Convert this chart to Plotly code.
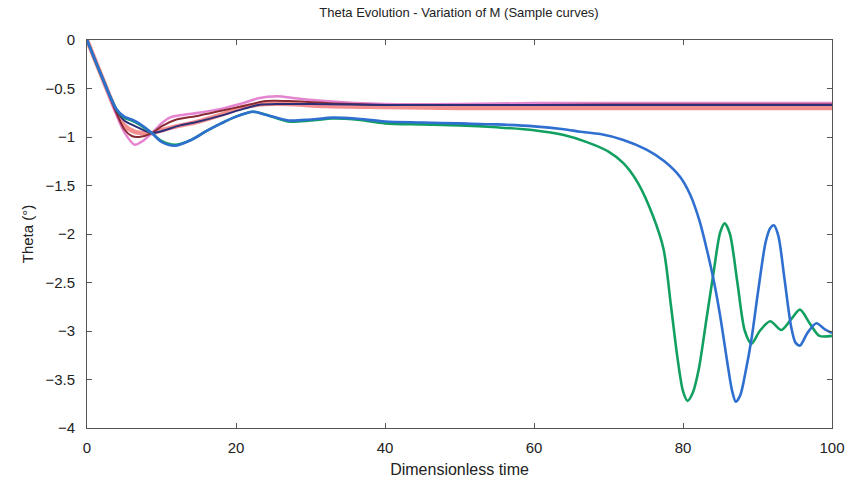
import plotly.graph_objects as go

# ---- data ----
t_green = [0, 2, 4, 5, 6, 7, 8.7, 10, 11.8, 14, 16, 18, 20, 22.3, 24, 27, 30, 33, 36, 40, 45, 50, 55, 60,
           64, 67, 70, 72, 74, 76, 77.4, 78.4, 79.3, 80.0, 80.6, 81.3, 82.1, 83.2, 84.1, 85.0, 85.6, 86.3,
           87.3, 88.3, 89.2, 90.3, 91.7, 93.2, 94.5, 95.7, 97, 98.3, 100]
th_green = [0, -0.38, -0.72, -0.80, -0.83, -0.87, -0.96, -1.04, -1.08, -1.03, -0.94, -0.86, -0.79, -0.74,
            -0.77, -0.84, -0.83, -0.81, -0.82, -0.86, -0.87, -0.88, -0.90, -0.93,
            -0.98, -1.05, -1.15, -1.27, -1.48, -1.82, -2.16, -2.75, -3.30, -3.62, -3.72, -3.64, -3.40,
            -2.85, -2.40, -1.98, -1.89, -2.00, -2.50, -3.00, -3.13, -3.00, -2.90, -2.99, -2.88, -2.78,
            -2.92, -3.05, -3.05]

t_blue = [0, 2, 4, 5, 6, 7, 8.7, 10, 11.8, 14, 16, 18, 20, 22.3, 24, 27, 30, 33, 36, 40, 45, 50, 55, 60,
          64, 66.2, 68.9, 72, 75.1, 77.5, 79.6, 81, 82.2, 83.2, 84.1, 85, 86, 86.6, 87.1, 87.7, 88.4, 89.2,
          90.1, 91.1, 91.7, 92.2, 92.8, 93.6, 94.5, 95.1, 95.7, 96.7, 97.9, 99, 100]
th_blue = [0, -0.38, -0.72, -0.79, -0.82, -0.86, -0.96, -1.05, -1.09, -1.03, -0.94, -0.86, -0.79, -0.74,
           -0.77, -0.83, -0.82, -0.80, -0.81, -0.84, -0.85, -0.86, -0.87, -0.89,
           -0.92, -0.945, -0.97, -1.03, -1.13, -1.25, -1.41, -1.60, -1.86, -2.16, -2.47, -2.85, -3.35,
           -3.62, -3.73, -3.66, -3.42, -3.08, -2.58, -2.08, -1.94, -1.91, -2.02, -2.45, -2.95, -3.12,
           -3.15, -3.02, -2.92, -2.98, -3.02]

t_mag = [0, 2, 4, 5, 6.4, 7.5, 8.7, 10, 11.1, 13, 15, 18, 21, 23, 25.5, 28, 32, 36, 40, 50, 60, 70, 80, 90, 100]
th_mag = [0, -0.38, -0.78, -0.95, -1.08, -1.04, -0.96, -0.86, -0.80, -0.77, -0.75, -0.71, -0.65, -0.60,
          -0.58, -0.60, -0.63, -0.65, -0.66, -0.66, -0.65, -0.65, -0.65, -0.65, -0.65]

t_red = [0, 2, 4, 5, 6.5, 8.7, 10, 12, 15, 18, 21, 24, 27, 32, 40, 50, 60, 70, 80, 90, 100]
th_red = [0, -0.38, -0.75, -0.88, -0.95, -0.96, -0.93, -0.89, -0.84, -0.77, -0.69, -0.66, -0.66, -0.68,
          -0.69, -0.70, -0.70, -0.70, -0.70, -0.70, -0.70]

t_brown = [0, 2, 4, 5, 6, 7, 8.7, 10, 12, 15, 18, 21, 24, 27, 32, 40, 50, 60, 70, 80, 90, 100]
th_brown = [0, -0.38, -0.76, -0.92, -0.99, -1.00, -0.96, -0.89, -0.82, -0.78, -0.73, -0.68, -0.63, -0.63,
            -0.65, -0.67, -0.67, -0.67, -0.665, -0.665, -0.665, -0.665]

t_navy = [0, 2, 4, 5, 6.5, 8.7, 10, 12.5, 15, 18, 21, 23, 26, 30, 40, 50, 60, 70, 80, 90, 100]
th_navy = [0, -0.38, -0.73, -0.83, -0.89, -0.96, -0.94, -0.88, -0.84, -0.78, -0.71, -0.67, -0.66, -0.66,
           -0.67, -0.67, -0.67, -0.67, -0.67, -0.67, -0.67]

x_ticks = [0, 20, 40, 60, 80, 100]
y_ticks = [0, -0.5, -1, -1.5, -2, -2.5, -3, -3.5, -4]
y_tick_text = ["0", "\u22120.5", "\u22121", "\u22121.5", "\u22122", "\u22122.5", "\u22123", "\u22123.5", "\u22124"]

series = [
    (t_red, th_red, "rgba(240,95,95,0.7)", 4.5),
    (t_mag, th_mag, "rgba(225,110,200,0.85)", 2.5),
    (t_brown, th_brown, "#8a2a35", 2.0),
    (t_navy, th_navy, "#2b2f78", 2.0),
    (t_green, th_green, "#12a060", 2.6),
    (t_blue, th_blue, "#2f6fd0", 2.6),
]

fig = go.Figure()
for tx, ty, col, w in series:
    fig.add_trace(go.Scatter(x=tx, y=ty, mode="lines",
                             line=dict(color=col, width=w, shape="spline", smoothing=0.8),
                             showlegend=False, hoverinfo="skip"))

FONT = "Liberation Sans, Arial"
axis_common = dict(showgrid=False, zeroline=False, showline=True, linecolor="#555555", linewidth=1,
                   mirror="ticks", ticks="inside", ticklen=5, tickcolor="#555555", automargin=False,
                   tickfont=dict(family=FONT, size=15, color="#222222"))

fig.update_layout(
    width=850, height=488,
    margin=dict(l=87, r=18, t=40, b=60),
    paper_bgcolor="white", plot_bgcolor="white",
    title=dict(text="Theta Evolution - Variation of M (Sample curves)", x=0.54, xanchor="center",
               y=0.975, yanchor="middle",
               font=dict(family=FONT, size=13, color="#222222")),
    xaxis=dict(range=[0, 100], tickvals=x_ticks, ticklabelstandoff=6, ticklabeloverflow="allow",
               title=dict(text="Dimensionless time", standoff=8,
                          font=dict(family=FONT, size=16, color="#222222")),
               **axis_common),
    yaxis=dict(range=[-4, 0], tickvals=y_ticks, ticktext=y_tick_text, ticklabelstandoff=8,
               title=dict(text="Theta (°)", standoff=8,
                          font=dict(family=FONT, size=15, color="#222222")),
               **axis_common),
)

fig.write_html("out.html")
